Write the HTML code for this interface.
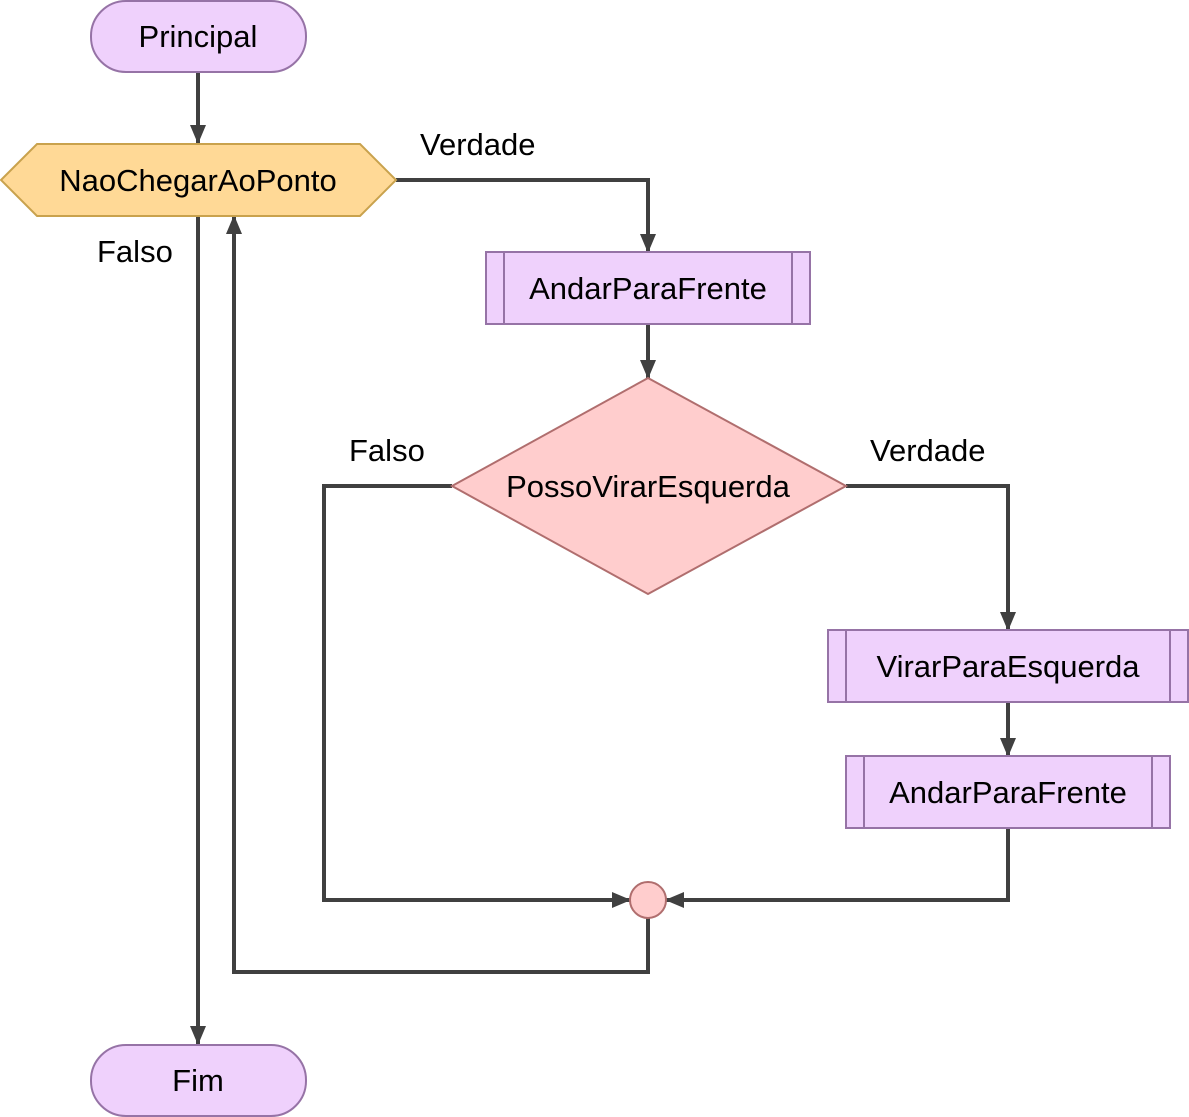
<!DOCTYPE html>
<html><head><meta charset="utf-8"><style>
html,body{margin:0;padding:0;background:#fff;}
svg{display:block;}
text{font-family:"Liberation Sans",Arial,sans-serif;font-size:31px;fill:#000;}
</style></head><body>
<svg width="1189" height="1117" viewBox="0 0 1189 1117" xmlns="http://www.w3.org/2000/svg">
<defs>
<marker id="b" markerWidth="20" markerHeight="20" refX="18" refY="10" orient="auto" markerUnits="userSpaceOnUse" viewBox="0 0 20 20">
<path d="M0,2 L19,10 L0,18 Z" fill="#404040"/>
</marker>
</defs>
<g fill="none" stroke="#404040" stroke-width="4">
<path d="M198,72 V143" marker-end="url(#b)"/>
<path d="M396,180 H648 V252" marker-end="url(#b)"/>
<path d="M648,324 V378" marker-end="url(#b)"/>
<path d="M452,486 H324 V900 H630" marker-end="url(#b)"/>
<path d="M846,486 H1008 V630" marker-end="url(#b)"/>
<path d="M1008,702 V756" marker-end="url(#b)"/>
<path d="M1008,828 V900 H666" marker-end="url(#b)"/>
<path d="M648,918 V972 H234 V216" marker-end="url(#b)"/>
<path d="M198,216 V1044" marker-end="url(#b)"/>
</g>
<g stroke="#9673a6" stroke-width="2" fill="#efd1fc">
<rect x="91" y="1" width="215" height="71" rx="35"/>
<rect x="91" y="1045" width="215" height="71" rx="35"/>
<rect x="486" y="252" width="324" height="72"/>
<line x1="504" y1="252" x2="504" y2="324"/><line x1="792" y1="252" x2="792" y2="324"/>
<rect x="828" y="630" width="360" height="72"/>
<line x1="846" y1="630" x2="846" y2="702"/><line x1="1170" y1="630" x2="1170" y2="702"/>
<rect x="846" y="756" width="324" height="72"/>
<line x1="864" y1="756" x2="864" y2="828"/><line x1="1152" y1="756" x2="1152" y2="828"/>
</g>
<polygon points="1,180 37,144 360,144 396,180 360,216 37,216" fill="#ffd996" stroke="#c9a24d" stroke-width="2"/>
<polygon points="648,378 846,486 648,594 452,486" fill="#ffcdcd" stroke="#b06e6e" stroke-width="2"/>
<circle cx="648" cy="900" r="18" fill="#ffcdcd" stroke="#b06e6e" stroke-width="2"/>
<g text-anchor="middle">
<text x="198" y="47">Principal</text>
<text x="198" y="1091">Fim</text>
<text x="198" y="191">NaoChegarAoPonto</text>
<text x="648" y="299">AndarParaFrente</text>
<text x="648" y="497">PossoVirarEsquerda</text>
<text x="1008" y="677">VirarParaEsquerda</text>
<text x="1008" y="803">AndarParaFrente</text>
</g>
<text x="420" y="155">Verdade</text>
<text x="97" y="262">Falso</text>
<text x="349" y="461">Falso</text>
<text x="870" y="461">Verdade</text>
</svg>
</body></html>
